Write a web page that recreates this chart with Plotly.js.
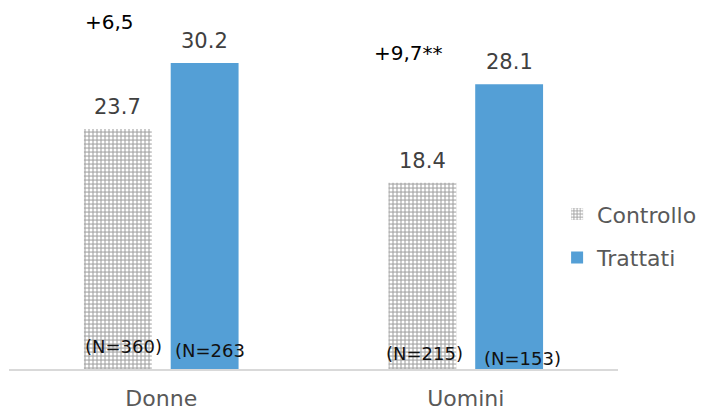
<!DOCTYPE html>
<html>
<head>
<meta charset="utf-8">
<script src="https://cdn.plot.ly/plotly-3.0.1.min.js"></script>
<style>html,body{margin:0;padding:0;background:#fff;} #chart{width:701px;height:410px;}</style>
</head>
<body>
<div id="chart"></div>
<script>
// ---- data ----
const categories = ["Donne", "Uomini"];
const seriesNames = ["Controllo", "Trattati"];
const controllo = [23.7, 18.4];
const trattati = [30.2, 28.1];
const diffLabels = ["+6,5", "+9,7**"];
const nControllo = ["(N=360)", "(N=215)"];
const nTrattati = ["(N=263", "(N=153)"];

// ---- styling ----
const FONT = "DejaVu Sans, sans-serif";
const barOffset = 43.5;               // px offset of each bar from category centre
const diffShift = [{x: -52, y: 41}, {x: -57, y: 31}];   // relative to Trattati bar top
const nCtrlShift = [{x: -38, y: 23}, {x: -41, y: 16}];
const nTratShift = [{x: 49, y: 19}, {x: 57, y: 11}];

const traces = [
  {
    type: "bar", name: seriesNames[0], x: categories, y: controllo,
    legendgroup: "a",
    marker: {color: "#b4b4b4", line: {width: 0},
             pattern: {shape: ".", fgcolor: "#ffffff", bgcolor: "#b4b4b4", size: 4, solidity: 0.45}},
    hoverinfo: "skip"
  },
  {
    type: "bar", name: seriesNames[1], x: categories, y: trattati,
    legendgroup: "b",
    marker: {color: "#549fd6", line: {width: 0}},
    hoverinfo: "skip"
  }
];

const annotations = [];
categories.forEach((c, i) => {
  annotations.push({x: c, y: controllo[i], xref: "x", yref: "y", text: controllo[i].toFixed(1),
    showarrow: false, xshift: -barOffset, yshift: 8, yanchor: "bottom",
    font: {family: FONT, size: 21, color: "#404040"}});
  annotations.push({x: c, y: trattati[i], xref: "x", yref: "y", text: trattati[i].toFixed(1),
    showarrow: false, xshift: barOffset, yshift: 8, yanchor: "bottom",
    font: {family: FONT, size: 21, color: "#404040"}});
  annotations.push({x: c, y: trattati[i], xref: "x", yref: "y", text: diffLabels[i],
    showarrow: false, xshift: diffShift[i].x, yshift: diffShift[i].y, yanchor: "middle",
    font: {family: FONT, size: 20, color: "#000000"}});
  annotations.push({x: c, y: 0, xref: "x", yref: "y", text: nControllo[i],
    showarrow: false, xshift: nCtrlShift[i].x, yshift: nCtrlShift[i].y, yanchor: "middle",
    font: {family: FONT, size: 18, color: "#111111"}});
  annotations.push({x: c, y: 0, xref: "x", yref: "y", text: nTrattati[i],
    showarrow: false, xshift: nTratShift[i].x, yshift: nTratShift[i].y, yanchor: "middle",
    font: {family: FONT, size: 18, color: "#111111"}});
});

const layout = {
  width: 701, height: 410,
  margin: {l: 9, r: 83, t: 0, b: 41, pad: 0, autoexpand: false},
  paper_bgcolor: "#ffffff", plot_bgcolor: "#ffffff",
  barmode: "group", bargap: 0.43, bargroupgap: 0.218,
  showlegend: true,
  legend: {x: 0.9, xanchor: "left", y: 0.36, yanchor: "middle",
           font: {family: FONT, size: 22, color: "#595959"},
           traceorder: "grouped", tracegroupgap: 12, bgcolor: "rgba(0,0,0,0)"},
  xaxis: {showline: true, linecolor: "#d9d9d9", linewidth: 2, ticks: "",
          ticklabelstandoff: 9,
          tickfont: {family: FONT, size: 22, color: "#595959"}, showgrid: false, zeroline: false,
          fixedrange: true},
  yaxis: {range: [0, 36.43], visible: false, showgrid: false, zeroline: false, fixedrange: true},
  annotations: annotations
};

Plotly.newPlot("chart", traces, layout, {displayModeBar: false, staticPlot: true});
</script>
</body>
</html>
